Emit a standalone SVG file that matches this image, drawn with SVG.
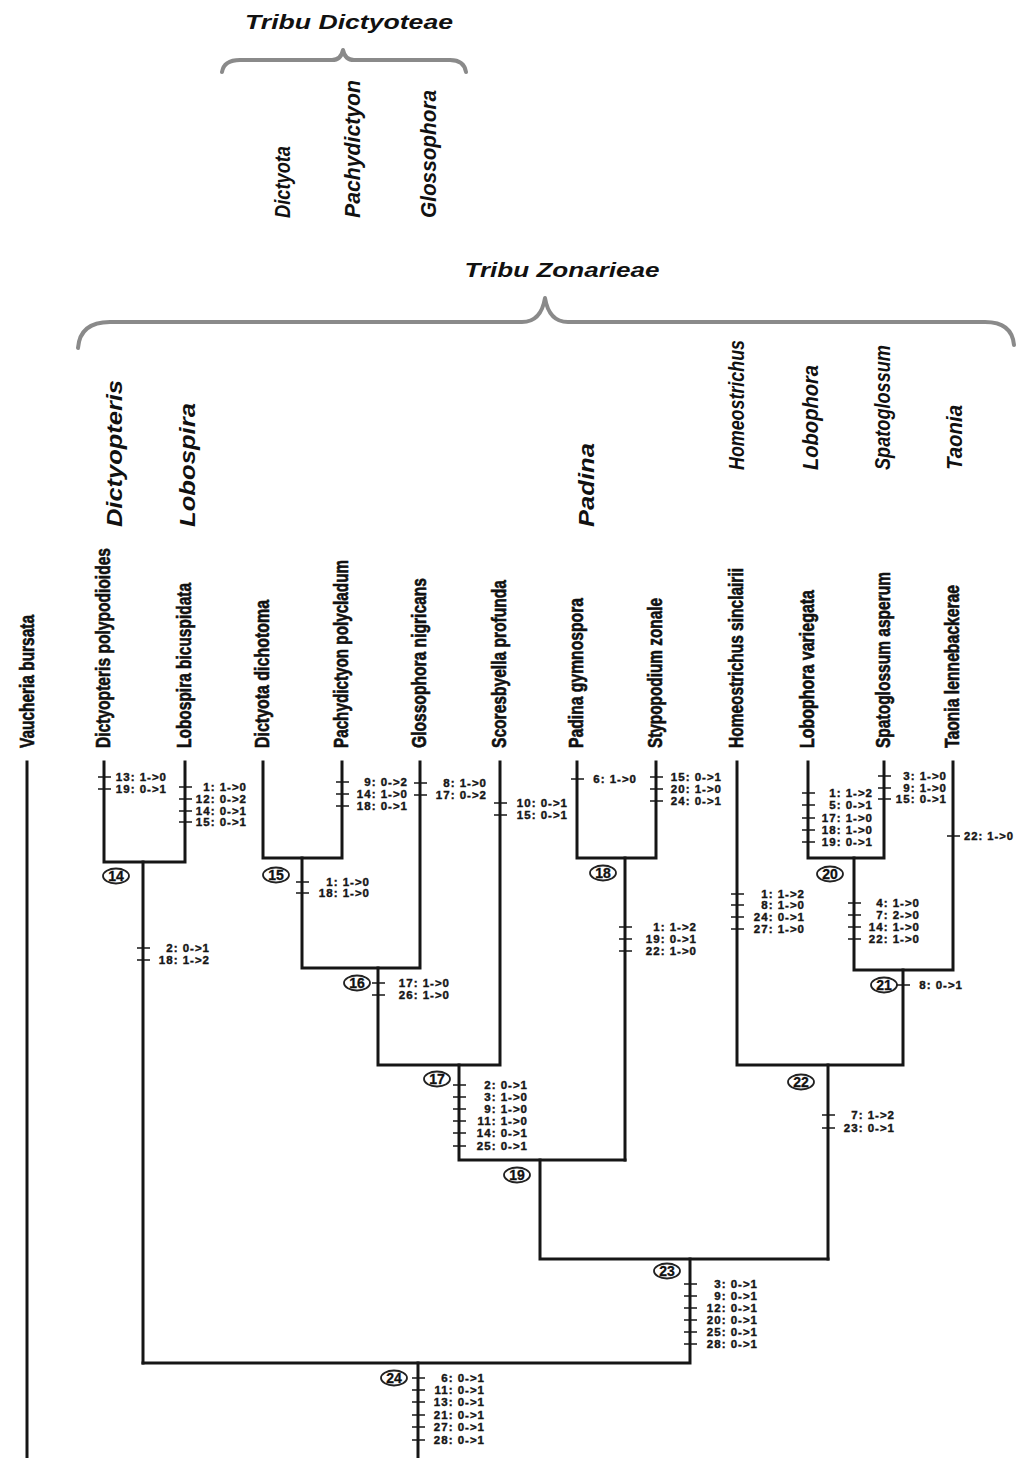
<svg xmlns="http://www.w3.org/2000/svg" width="1016" height="1458" viewBox="0 0 1016 1458">
<style>
.br{fill:none;stroke:#161616;stroke-width:3;stroke-linecap:square}
.tk{stroke:#161616;stroke-width:1.5}
.ch{font-family:"Liberation Sans",Arial,sans-serif;font-weight:bold;font-size:11.5px;letter-spacing:1px;fill:#161616;stroke:#161616;stroke-width:0.4;text-anchor:end}
.tx{font-family:"Liberation Sans",Arial,sans-serif;font-weight:bold;font-size:20px;fill:#111;stroke:#111;stroke-width:0.6}
.gn{font-family:"Liberation Sans",Arial,sans-serif;font-weight:bold;font-style:italic;font-size:22px;fill:#111}
.hd{font-family:"Liberation Sans",Arial,sans-serif;font-weight:bold;font-style:italic;font-size:20px;fill:#111;text-anchor:middle}
.brace{fill:none;stroke:#8a8a8a;stroke-width:4;stroke-linecap:round;stroke-linejoin:round}
.nd{fill:#fff;stroke:#222;stroke-width:1.8}
.nl{font-family:"Liberation Sans",Arial,sans-serif;font-weight:bold;font-size:14px;fill:#111;stroke:#111;stroke-width:0.3;text-anchor:middle}
</style>
<rect width="1016" height="1458" fill="#fff"/>

<g id="headers">
<text class="hd" x="349" y="29" textLength="208" lengthAdjust="spacingAndGlyphs">Tribu Dictyoteae</text>
<path class="brace" d="M222,72 Q224,60 240,60 L332,60 Q341,60 343,50 Q345,60 354,60 L450,60 Q464,60 466,72"/>
<text class="hd" x="562" y="277" textLength="195" lengthAdjust="spacingAndGlyphs">Tribu Zonarieae</text>
<path class="brace" d="M78,348 Q80,322 110,322 L522,322 Q541,322 545,298 Q549,322 568,322 L985,322 Q1012,322 1014,345"/>
</g>

<g id="genera">
<text class="gn" transform="translate(122,527) rotate(-90)" textLength="147" lengthAdjust="spacingAndGlyphs">Dictyopteris</text>
<text class="gn" transform="translate(195,527) rotate(-90)" textLength="124" lengthAdjust="spacingAndGlyphs">Lobospira</text>
<text class="gn" transform="translate(290,218) rotate(-90)" textLength="72" lengthAdjust="spacingAndGlyphs">Dictyota</text>
<text class="gn" transform="translate(360,218) rotate(-90)" textLength="138" lengthAdjust="spacingAndGlyphs">Pachydictyon</text>
<text class="gn" transform="translate(436,218) rotate(-90)" textLength="128" lengthAdjust="spacingAndGlyphs">Glossophora</text>
<text class="gn" transform="translate(594,527) rotate(-90)" textLength="84" lengthAdjust="spacingAndGlyphs">Padina</text>
<text class="gn" transform="translate(744,470) rotate(-90)" textLength="130" lengthAdjust="spacingAndGlyphs">Homeostrichus</text>
<text class="gn" transform="translate(818,470) rotate(-90)" textLength="105" lengthAdjust="spacingAndGlyphs">Lobophora</text>
<text class="gn" transform="translate(890,470) rotate(-90)" textLength="125" lengthAdjust="spacingAndGlyphs">Spatoglossum</text>
<text class="gn" transform="translate(962,470) rotate(-90)" textLength="65" lengthAdjust="spacingAndGlyphs">Taonia</text>
</g>

<g id="connectors">
<path class="br" d="M27,762 V1458"/>
<path class="br" d="M104,762 V862 H185 V762"/>
<path class="br" d="M143,862 V1363"/>
<path class="br" d="M263,762 V858 H342 V762"/>
<path class="br" d="M302,858 V968 H420 V762"/>
<path class="br" d="M378,968 V1065 H500 V762"/>
<path class="br" d="M459,1065 V1160 H625"/>
<path class="br" d="M577,762 V858 H656 V762"/>
<path class="br" d="M625,858 V1160"/>
<path class="br" d="M540,1160 V1259 H828"/>
<path class="br" d="M808,762 V858 H884 V762"/>
<path class="br" d="M854,858 V970 H953 V762"/>
<path class="br" d="M903,970 V1065 H737 V762"/>
<path class="br" d="M828,1065 V1259"/>
<path class="br" d="M690,1259 V1363 H143"/>
<path class="br" d="M418,1363 V1458"/>
</g>

<g id="t-vaucheria"><text class="tx" transform="translate(34,748) rotate(-90)" textLength="133" lengthAdjust="spacingAndGlyphs">Vaucheria bursata</text></g>

<g id="t-dictyopteris">
<text class="tx" transform="translate(110,748) rotate(-90)" textLength="200" lengthAdjust="spacingAndGlyphs">Dictyopteris polypodioides</text>
<line class="tk" x1="98" y1="777" x2="111" y2="777"/><text class="ch" x="167" y="781">13: 1-&gt;0</text>
<line class="tk" x1="98" y1="789" x2="111" y2="789"/><text class="ch" x="167" y="793">19: 0-&gt;1</text>
</g>

<g id="t-lobospira">
<text class="tx" transform="translate(191,748) rotate(-90)" textLength="165" lengthAdjust="spacingAndGlyphs">Lobospira bicuspidata</text>
<line class="tk" x1="179" y1="787" x2="192" y2="787"/><text class="ch" x="247" y="791">1: 1-&gt;0</text>
<line class="tk" x1="179" y1="799" x2="192" y2="799"/><text class="ch" x="247" y="803">12: 0-&gt;2</text>
<line class="tk" x1="179" y1="811" x2="192" y2="811"/><text class="ch" x="247" y="815">14: 0-&gt;1</text>
<line class="tk" x1="179" y1="822" x2="192" y2="822"/><text class="ch" x="247" y="826">15: 0-&gt;1</text>
</g>

<g id="t-dictyota">
<text class="tx" transform="translate(269,748) rotate(-90)" textLength="148" lengthAdjust="spacingAndGlyphs">Dictyota dichotoma</text>
</g>

<g id="t-pachydictyon">
<text class="tx" transform="translate(348,748) rotate(-90)" textLength="188" lengthAdjust="spacingAndGlyphs">Pachydictyon polycladum</text>
<line class="tk" x1="336" y1="782" x2="349" y2="782"/><text class="ch" x="408" y="786">9: 0-&gt;2</text>
<line class="tk" x1="336" y1="794" x2="349" y2="794"/><text class="ch" x="408" y="798">14: 1-&gt;0</text>
<line class="tk" x1="336" y1="806" x2="349" y2="806"/><text class="ch" x="408" y="810">18: 0-&gt;1</text>
</g>

<g id="t-glossophora">
<text class="tx" transform="translate(426,748) rotate(-90)" textLength="170" lengthAdjust="spacingAndGlyphs">Glossophora nigricans</text>
<line class="tk" x1="414" y1="783" x2="427" y2="783"/><text class="ch" x="487" y="787">8: 1-&gt;0</text>
<line class="tk" x1="414" y1="795" x2="427" y2="795"/><text class="ch" x="487" y="799">17: 0-&gt;2</text>
</g>

<g id="t-scoresbyella">
<text class="tx" transform="translate(506,748) rotate(-90)" textLength="168" lengthAdjust="spacingAndGlyphs">Scoresbyella profunda</text>
<line class="tk" x1="494" y1="803" x2="507" y2="803"/><text class="ch" x="568" y="807">10: 0-&gt;1</text>
<line class="tk" x1="494" y1="815" x2="507" y2="815"/><text class="ch" x="568" y="819">15: 0-&gt;1</text>
</g>

<g id="t-padina">
<text class="tx" transform="translate(583,748) rotate(-90)" textLength="150" lengthAdjust="spacingAndGlyphs">Padina gymnospora</text>
<line class="tk" x1="571" y1="779" x2="584" y2="779"/><text class="ch" x="637" y="783">6: 1-&gt;0</text>
</g>

<g id="t-stypopodium">
<text class="tx" transform="translate(662,748) rotate(-90)" textLength="150" lengthAdjust="spacingAndGlyphs">Stypopodium zonale</text>
<line class="tk" x1="650" y1="777" x2="663" y2="777"/><text class="ch" x="722" y="781">15: 0-&gt;1</text>
<line class="tk" x1="650" y1="789" x2="663" y2="789"/><text class="ch" x="722" y="793">20: 1-&gt;0</text>
<line class="tk" x1="650" y1="801" x2="663" y2="801"/><text class="ch" x="722" y="805">24: 0-&gt;1</text>
</g>

<g id="t-homeostrichus">
<text class="tx" transform="translate(743,748) rotate(-90)" textLength="180" lengthAdjust="spacingAndGlyphs">Homeostrichus sinclairii</text>
<line class="tk" x1="731" y1="894" x2="744" y2="894"/><text class="ch" x="805" y="898">1: 1-&gt;2</text>
<line class="tk" x1="731" y1="905" x2="744" y2="905"/><text class="ch" x="805" y="909">8: 1-&gt;0</text>
<line class="tk" x1="731" y1="917" x2="744" y2="917"/><text class="ch" x="805" y="921">24: 0-&gt;1</text>
<line class="tk" x1="731" y1="929" x2="744" y2="929"/><text class="ch" x="805" y="933">27: 1-&gt;0</text>
</g>

<g id="t-lobophora">
<text class="tx" transform="translate(814,748) rotate(-90)" textLength="158" lengthAdjust="spacingAndGlyphs">Lobophora variegata</text>
<line class="tk" x1="802" y1="793" x2="815" y2="793"/><text class="ch" x="873" y="797">1: 1-&gt;2</text>
<line class="tk" x1="802" y1="805" x2="815" y2="805"/><text class="ch" x="873" y="809">5: 0-&gt;1</text>
<line class="tk" x1="802" y1="818" x2="815" y2="818"/><text class="ch" x="873" y="822">17: 1-&gt;0</text>
<line class="tk" x1="802" y1="830" x2="815" y2="830"/><text class="ch" x="873" y="834">18: 1-&gt;0</text>
<line class="tk" x1="802" y1="842" x2="815" y2="842"/><text class="ch" x="873" y="846">19: 0-&gt;1</text>
</g>

<g id="t-spatoglossum">
<text class="tx" transform="translate(890,748) rotate(-90)" textLength="176" lengthAdjust="spacingAndGlyphs">Spatoglossum asperum</text>
<line class="tk" x1="878" y1="776" x2="891" y2="776"/><text class="ch" x="947" y="780">3: 1-&gt;0</text>
<line class="tk" x1="878" y1="788" x2="891" y2="788"/><text class="ch" x="947" y="792">9: 1-&gt;0</text>
<line class="tk" x1="878" y1="799" x2="891" y2="799"/><text class="ch" x="947" y="803">15: 0-&gt;1</text>
</g>

<g id="t-taonia">
<text class="tx" transform="translate(959,748) rotate(-90)" textLength="163" lengthAdjust="spacingAndGlyphs">Taonia lennebackerae</text>
<line class="tk" x1="947" y1="836" x2="960" y2="836"/><text class="ch" x="1014" y="840" textLength="50" lengthAdjust="spacingAndGlyphs">22: 1-&gt;0</text>
</g>

<g id="n14">
<ellipse class="nd" cx="116" cy="876" rx="13" ry="7.5"/><text class="nl" x="116" y="881">14</text>
<line class="tk" x1="137" y1="948" x2="150" y2="948"/><text class="ch" x="210" y="952">2: 0-&gt;1</text>
<line class="tk" x1="137" y1="960" x2="150" y2="960"/><text class="ch" x="210" y="964">18: 1-&gt;2</text>
</g>

<g id="n15">
<ellipse class="nd" cx="276" cy="875" rx="13" ry="7.5"/><text class="nl" x="276" y="880">15</text>
<line class="tk" x1="296" y1="882" x2="309" y2="882"/><text class="ch" x="370" y="886">1: 1-&gt;0</text>
<line class="tk" x1="296" y1="893" x2="309" y2="893"/><text class="ch" x="370" y="897">18: 1-&gt;0</text>
</g>

<g id="n16">
<ellipse class="nd" cx="357" cy="983" rx="13" ry="7.5"/><text class="nl" x="357" y="988">16</text>
<line class="tk" x1="372" y1="983" x2="385" y2="983"/><text class="ch" x="450" y="987">17: 1-&gt;0</text>
<line class="tk" x1="372" y1="995" x2="385" y2="995"/><text class="ch" x="450" y="999">26: 1-&gt;0</text>
</g>

<g id="n17">
<ellipse class="nd" cx="437" cy="1079" rx="13" ry="7.5"/><text class="nl" x="437" y="1084">17</text>
<line class="tk" x1="453" y1="1085" x2="466" y2="1085"/><text class="ch" x="528" y="1089">2: 0-&gt;1</text>
<line class="tk" x1="453" y1="1097" x2="466" y2="1097"/><text class="ch" x="528" y="1101">3: 1-&gt;0</text>
<line class="tk" x1="453" y1="1109" x2="466" y2="1109"/><text class="ch" x="528" y="1113">9: 1-&gt;0</text>
<line class="tk" x1="453" y1="1121" x2="466" y2="1121"/><text class="ch" x="528" y="1125">11: 1-&gt;0</text>
<line class="tk" x1="453" y1="1133" x2="466" y2="1133"/><text class="ch" x="528" y="1137">14: 0-&gt;1</text>
<line class="tk" x1="453" y1="1146" x2="466" y2="1146"/><text class="ch" x="528" y="1150">25: 0-&gt;1</text>
</g>

<g id="n18">
<ellipse class="nd" cx="603" cy="873" rx="13" ry="7.5"/><text class="nl" x="603" y="878">18</text>
<line class="tk" x1="619" y1="927" x2="632" y2="927"/><text class="ch" x="697" y="931">1: 1-&gt;2</text>
<line class="tk" x1="619" y1="939" x2="632" y2="939"/><text class="ch" x="697" y="943">19: 0-&gt;1</text>
<line class="tk" x1="619" y1="951" x2="632" y2="951"/><text class="ch" x="697" y="955">22: 1-&gt;0</text>
</g>

<g id="n19">
<ellipse class="nd" cx="517" cy="1175" rx="13" ry="7.5"/><text class="nl" x="517" y="1180">19</text>
</g>

<g id="n20">
<ellipse class="nd" cx="830" cy="874" rx="13" ry="7.5"/><text class="nl" x="830" y="879">20</text>
<line class="tk" x1="848" y1="903" x2="861" y2="903"/><text class="ch" x="920" y="907">4: 1-&gt;0</text>
<line class="tk" x1="848" y1="915" x2="861" y2="915"/><text class="ch" x="920" y="919">7: 2-&gt;0</text>
<line class="tk" x1="848" y1="927" x2="861" y2="927"/><text class="ch" x="920" y="931">14: 1-&gt;0</text>
<line class="tk" x1="848" y1="939" x2="861" y2="939"/><text class="ch" x="920" y="943">22: 1-&gt;0</text>
</g>

<g id="n21">
<ellipse class="nd" cx="884" cy="985" rx="13" ry="7.5"/><text class="nl" x="884" y="990">21</text>
<line class="tk" x1="897" y1="985" x2="910" y2="985"/><text class="ch" x="963" y="989">8: 0-&gt;1</text>
</g>

<g id="n22">
<ellipse class="nd" cx="801" cy="1082" rx="13" ry="7.5"/><text class="nl" x="801" y="1087">22</text>
<line class="tk" x1="822" y1="1115" x2="835" y2="1115"/><text class="ch" x="895" y="1119">7: 1-&gt;2</text>
<line class="tk" x1="822" y1="1128" x2="835" y2="1128"/><text class="ch" x="895" y="1132">23: 0-&gt;1</text>
</g>

<g id="n23">
<ellipse class="nd" cx="667" cy="1271" rx="13" ry="7.5"/><text class="nl" x="667" y="1276">23</text>
<line class="tk" x1="684" y1="1284" x2="697" y2="1284"/><text class="ch" x="758" y="1288">3: 0-&gt;1</text>
<line class="tk" x1="684" y1="1296" x2="697" y2="1296"/><text class="ch" x="758" y="1300">9: 0-&gt;1</text>
<line class="tk" x1="684" y1="1308" x2="697" y2="1308"/><text class="ch" x="758" y="1312">12: 0-&gt;1</text>
<line class="tk" x1="684" y1="1320" x2="697" y2="1320"/><text class="ch" x="758" y="1324">20: 0-&gt;1</text>
<line class="tk" x1="684" y1="1332" x2="697" y2="1332"/><text class="ch" x="758" y="1336">25: 0-&gt;1</text>
<line class="tk" x1="684" y1="1344" x2="697" y2="1344"/><text class="ch" x="758" y="1348">28: 0-&gt;1</text>
</g>

<g id="n24">
<ellipse class="nd" cx="394" cy="1378" rx="13" ry="7.5"/><text class="nl" x="394" y="1383">24</text>
<line class="tk" x1="412" y1="1378" x2="425" y2="1378"/><text class="ch" x="485" y="1382">6: 0-&gt;1</text>
<line class="tk" x1="412" y1="1390" x2="425" y2="1390"/><text class="ch" x="485" y="1394">11: 0-&gt;1</text>
<line class="tk" x1="412" y1="1402" x2="425" y2="1402"/><text class="ch" x="485" y="1406">13: 0-&gt;1</text>
<line class="tk" x1="412" y1="1415" x2="425" y2="1415"/><text class="ch" x="485" y="1419">21: 0-&gt;1</text>
<line class="tk" x1="412" y1="1427" x2="425" y2="1427"/><text class="ch" x="485" y="1431">27: 0-&gt;1</text>
<line class="tk" x1="412" y1="1440" x2="425" y2="1440"/><text class="ch" x="485" y="1444">28: 0-&gt;1</text>
</g>
</svg>
